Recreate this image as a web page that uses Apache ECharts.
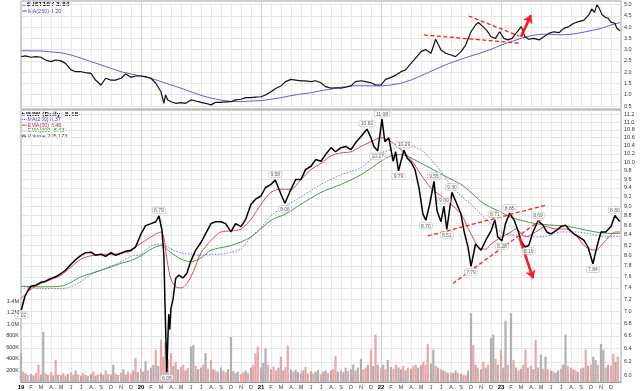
<!DOCTYPE html>
<html><head><meta charset="utf-8">
<script src="https://cdn.jsdelivr.net/npm/echarts@6/dist/echarts.min.js"></script>
<style>html,body{margin:0;padding:0;background:#fff}#c{width:640px;height:391px}</style>
</head><body><div id="c"></div>
<script>
// ---------- data ----------
const monthLetters = ['J','F','M','A','M','J','J','A','S','O','N','D'];
const ustTicks = [0.5,1.0,1.5,2.0,2.5,3.0,3.5,4.0,4.5,5.0];
const priceTicks = [6.0,6.2,6.4,6.6,6.8,7.0,7.2,7.4,7.6,7.8,8.0,8.2,8.4,8.6,8.8,9.0,9.2,9.4,9.6,9.8,10.0,10.2,10.4,10.6,10.8,11.0,11.2];
const volTicks = [200000,400000,600000,800000,1000000,1200000,1400000];

const ustDates = ['2019-01-02','2019-01-15','2019-02-01','2019-02-15','2019-03-01','2019-03-15','2019-04-01','2019-04-15','2019-05-01','2019-05-15','2019-06-01','2019-06-15','2019-07-01','2019-07-15','2019-08-01','2019-08-15','2019-09-01','2019-09-15','2019-10-01','2019-10-15','2019-11-01','2019-11-15','2019-12-01','2019-12-15',
'2020-01-01','2020-01-15','2020-02-01','2020-02-15','2020-03-01','2020-03-10','2020-03-15','2020-03-22','2020-04-01','2020-04-15','2020-05-01','2020-05-15','2020-06-01','2020-06-15','2020-07-01','2020-07-15','2020-08-01','2020-08-15','2020-09-01','2020-09-15','2020-10-01','2020-10-15','2020-11-01','2020-11-15','2020-12-01','2020-12-15',
'2021-01-01','2021-01-15','2021-02-01','2021-02-15','2021-03-01','2021-03-15','2021-04-01','2021-04-15','2021-05-01','2021-05-15','2021-06-01','2021-06-15','2021-07-01','2021-07-15','2021-08-01','2021-08-15','2021-09-01','2021-09-15','2021-10-01','2021-10-15','2021-11-01','2021-11-15','2021-12-01','2021-12-15',
'2022-01-01','2022-01-15','2022-02-01','2022-02-15','2022-03-01','2022-03-15','2022-04-01','2022-04-15','2022-05-01','2022-05-15','2022-06-01','2022-06-15','2022-07-01','2022-07-15','2022-08-01','2022-08-15','2022-09-01','2022-09-15','2022-10-01','2022-10-15','2022-10-24','2022-11-07','2022-11-19','2022-12-01','2022-12-15','2022-12-28',
'2023-01-10','2023-01-22','2023-02-04','2023-02-15','2023-03-02','2023-03-13','2023-03-25','2023-04-10','2023-04-25','2023-05-10','2023-05-25','2023-06-10','2023-06-25','2023-07-10','2023-07-25','2023-08-10','2023-08-25','2023-09-10','2023-09-25','2023-10-03','2023-10-12','2023-10-19','2023-10-26','2023-11-04','2023-11-10','2023-11-15','2023-11-22','2023-12-01','2023-12-07','2023-12-13','2023-12-19','2023-12-29'];
const ustValues = [2.69,2.72,2.66,2.69,2.66,2.54,2.47,2.54,2.50,2.39,2.10,2.02,2.02,1.98,1.95,1.65,1.43,1.73,1.65,1.65,1.73,1.92,1.77,1.83,
1.83,1.80,1.73,1.51,1.13,0.62,0.99,0.77,0.69,0.62,0.65,0.62,0.77,0.72,0.66,0.62,0.55,0.66,0.66,0.68,0.69,0.77,0.80,0.87,0.87,0.89,
0.91,0.99,1.13,1.29,1.39,1.58,1.68,1.65,1.61,1.61,1.58,1.62,1.53,1.36,1.29,1.31,1.29,1.33,1.39,1.58,1.62,1.58,1.53,1.43,
1.43,1.68,1.77,1.87,2.02,2.10,2.39,2.62,2.91,3.00,2.84,3.46,2.98,2.84,2.76,2.69,2.91,3.20,3.79,4.09,4.20,4.02,3.84,3.57,3.50,3.79,
3.50,3.43,3.50,3.72,4.02,3.57,3.46,3.50,3.43,3.57,3.72,3.79,3.75,3.94,4.02,4.17,4.24,4.31,4.55,4.80,4.65,4.98,4.85,4.55,4.62,4.42,4.40,4.22,4.15,4.17,3.95,3.84];

const ustMaDates = ['2019-01-02','2019-03-01','2019-05-01','2019-06-01','2019-07-01','2019-08-01','2019-09-01','2019-10-01','2019-11-01','2019-12-01','2020-01-01','2020-02-01','2020-03-01','2020-04-01','2020-05-01','2020-06-01','2020-07-01','2020-08-01','2020-09-01','2020-10-01','2020-11-01','2020-12-01','2021-01-01','2021-02-01','2021-03-01','2021-04-01','2021-05-01','2021-06-01','2021-07-01','2021-08-01','2021-09-01','2021-10-01','2021-11-01','2021-12-01','2022-01-01','2022-02-01','2022-03-01','2022-04-01','2022-05-01','2022-06-01','2022-07-01','2022-08-01','2022-09-01','2022-10-01','2022-11-01','2022-12-01','2023-01-01','2023-02-01','2023-03-01','2023-04-01','2023-05-01','2023-06-01','2023-07-01','2023-08-01','2023-09-01','2023-10-01','2023-11-01','2023-12-01','2023-12-29'];
const ustMaValues = [2.95,2.94,2.86,2.76,2.62,2.47,2.32,2.17,2.02,1.92,1.83,1.73,1.58,1.43,1.29,1.13,0.97,0.85,0.76,0.70,0.69,0.72,0.74,0.80,0.87,0.96,1.03,1.09,1.18,1.25,1.33,1.39,1.40,1.39,1.39,1.43,1.51,1.65,1.84,2.04,2.24,2.42,2.57,2.72,2.86,3.01,3.20,3.35,3.50,3.62,3.68,3.68,3.65,3.68,3.75,3.84,3.94,4.09,4.20];

const priceDates = ['2019-01-02','2019-01-13','2019-01-22','2019-02-01','2019-02-15','2019-03-01','2019-03-15','2019-04-01','2019-04-15','2019-05-01','2019-05-15','2019-06-01','2019-06-15','2019-07-01','2019-07-15','2019-08-01','2019-08-15','2019-09-01','2019-09-15','2019-10-01','2019-10-15','2019-11-01','2019-11-15','2019-12-01','2019-12-15',
'2020-01-01','2020-01-15','2020-02-01','2020-02-15','2020-02-24','2020-03-04','2020-03-10','2020-03-13','2020-03-17','2020-03-19','2020-03-22','2020-03-25','2020-03-28','2020-04-01','2020-04-07','2020-04-15','2020-04-24','2020-05-07','2020-05-19','2020-06-01','2020-06-15','2020-07-01','2020-07-15','2020-08-01','2020-08-15','2020-09-01','2020-09-15','2020-10-01','2020-10-15','2020-11-01','2020-11-15','2020-12-01','2020-12-15',
'2021-01-01','2021-01-15','2021-02-01','2021-02-13','2021-03-01','2021-03-13','2021-04-01','2021-04-15','2021-05-01','2021-05-15','2021-06-01','2021-06-15','2021-07-01','2021-07-15','2021-08-01','2021-08-15','2021-09-01','2021-09-15','2021-10-01','2021-10-15','2021-11-01','2021-11-19','2021-12-01','2021-12-10','2021-12-22',
'2022-01-04','2022-01-13','2022-01-25','2022-02-07','2022-02-14','2022-02-22','2022-03-02','2022-03-10','2022-03-20','2022-04-01','2022-04-13','2022-04-25','2022-05-07','2022-05-16','2022-05-28','2022-06-10','2022-06-19','2022-07-01','2022-07-10','2022-07-19','2022-08-04','2022-08-16','2022-09-01','2022-09-10','2022-09-22','2022-10-01','2022-10-15','2022-11-01','2022-11-15','2022-12-01','2022-12-13','2022-12-22',
'2023-01-04','2023-01-15','2023-01-28','2023-02-10','2023-02-22','2023-03-01','2023-03-13','2023-03-25','2023-04-07','2023-04-22','2023-05-07','2023-05-19','2023-06-01','2023-06-15','2023-07-01','2023-07-15','2023-07-25','2023-08-10','2023-08-25','2023-09-10','2023-09-22','2023-10-07','2023-10-19','2023-11-01','2023-11-15','2023-12-01','2023-12-13','2023-12-25','2023-12-29'];
const priceValues = [7.02,7.25,7.35,7.43,7.45,7.50,7.52,7.57,7.60,7.66,7.72,7.83,7.92,8.00,8.05,8.06,8.00,8.02,7.98,8.05,8.00,8.04,8.08,8.10,8.16,
8.42,8.59,8.63,8.67,8.79,8.50,8.00,7.20,6.40,6.05,6.50,6.95,6.70,7.05,7.20,7.57,7.63,7.58,7.66,7.90,8.10,8.25,8.42,8.63,8.67,8.67,8.63,8.46,8.63,8.57,8.72,9.04,9.15,
9.22,9.41,9.48,9.58,9.26,9.06,9.37,9.59,9.59,9.82,9.90,10.06,10.02,10.18,10.35,10.25,10.35,10.38,10.30,10.47,10.63,10.82,10.60,10.38,10.27,
11.08,10.50,10.60,10.02,10.25,9.79,10.05,10.29,10.10,10.00,9.82,9.40,8.83,8.70,9.04,9.55,8.90,8.67,9.00,8.51,9.30,9.10,8.83,8.48,8.16,7.79,8.22,8.10,8.29,8.48,8.71,8.36,
8.28,8.63,8.85,8.70,8.46,8.29,8.16,8.19,8.46,8.69,8.60,8.46,8.42,8.48,8.57,8.60,8.52,8.42,8.36,8.29,8.16,7.84,8.16,8.46,8.46,8.57,8.80,8.70,8.68];

const ma250Dates = ['2019-01-02','2019-03-01','2019-05-01','2019-06-01','2019-07-01','2019-08-01','2019-09-01','2019-10-01','2019-11-01','2019-12-01','2020-01-01','2020-02-01','2020-03-01','2020-04-01','2020-05-01','2020-06-01','2020-07-01','2020-08-01','2020-09-01','2020-10-01','2020-11-01','2020-12-01','2021-01-01','2021-02-01','2021-03-15','2021-05-01','2021-07-01','2021-09-01','2021-11-01','2021-12-20','2022-02-01','2022-03-15','2022-05-01','2022-06-01','2022-07-01','2022-08-01','2022-09-01','2022-10-01','2022-11-01','2022-12-01','2023-01-01','2023-02-01','2023-03-01','2023-04-01','2023-05-15','2023-07-01','2023-08-15','2023-10-01','2023-11-15','2023-12-29'];
const ma250Values = [7.43,7.39,7.39,7.42,7.52,7.64,7.72,7.80,7.88,7.98,8.02,8.18,8.22,8.12,8.05,8.02,8.00,8.02,8.02,8.06,8.12,8.36,8.55,8.80,9.00,9.20,9.48,9.70,9.87,10.18,10.30,10.42,10.30,10.06,9.78,9.45,9.22,9.04,8.83,8.63,8.46,8.40,8.40,8.36,8.37,8.46,8.46,8.42,8.36,8.37];

const ema50Dates = ['2019-01-02','2019-02-01','2019-03-01','2019-04-01','2019-05-01','2019-06-01','2019-07-01','2019-08-01','2019-09-01','2019-10-01','2019-11-01','2019-12-01','2019-12-15','2020-01-15','2020-02-15','2020-03-01','2020-03-10','2020-03-20','2020-04-01','2020-04-15','2020-05-01','2020-05-15','2020-06-01','2020-06-15','2020-07-01','2020-08-01','2020-09-01','2020-10-01','2020-11-01','2020-12-01','2021-01-01','2021-02-01','2021-03-01','2021-04-01','2021-05-01','2021-06-01','2021-07-01','2021-08-01','2021-09-01','2021-10-01','2021-11-01','2021-12-01','2022-01-01','2022-02-01','2022-03-01','2022-04-01','2022-05-01','2022-06-01','2022-07-01','2022-08-01','2022-09-01','2022-10-01','2022-11-01','2022-11-15','2022-12-01','2023-01-01','2023-02-01','2023-02-15','2023-03-15','2023-04-15','2023-05-15','2023-06-15','2023-07-15','2023-08-15','2023-09-15','2023-10-15','2023-11-15','2023-12-15','2023-12-29'];
const ema50Values = [7.22,7.38,7.48,7.55,7.63,7.78,7.93,7.99,8.02,8.02,8.04,8.08,8.16,8.29,8.42,8.46,8.35,7.90,7.55,7.42,7.40,7.45,7.60,7.80,8.05,8.29,8.46,8.48,8.52,8.72,9.04,9.30,9.37,9.37,9.59,9.82,9.97,10.15,10.22,10.25,10.38,10.50,10.60,10.50,10.30,10.06,9.70,9.40,9.22,9.04,8.83,8.42,8.12,8.12,8.22,8.35,8.46,8.52,8.36,8.46,8.57,8.52,8.52,8.40,8.16,8.10,8.29,8.46,8.46];

const ema200Dates = ['2019-01-02','2019-03-01','2019-05-01','2019-06-01','2019-07-01','2019-08-01','2019-09-01','2019-10-01','2019-11-01','2019-12-01','2020-01-01','2020-02-01','2020-03-01','2020-04-01','2020-05-01','2020-06-01','2020-07-01','2020-08-01','2020-10-01','2020-12-01','2021-02-01','2021-03-15','2021-05-01','2021-07-01','2021-09-01','2021-11-01','2022-01-01','2022-02-01','2022-03-01','2022-04-01','2022-05-01','2022-06-01','2022-07-01','2022-08-01','2022-09-01','2022-10-01','2022-11-01','2022-12-01','2023-01-01','2023-02-01','2023-03-01','2023-04-15','2023-06-01','2023-07-15','2023-09-01','2023-10-15','2023-12-01','2023-12-29'];
const ema200Values = [7.43,7.42,7.43,7.50,7.60,7.66,7.72,7.78,7.85,7.90,7.99,8.12,8.19,8.05,7.93,7.88,7.95,8.10,8.19,8.36,8.70,8.83,9.04,9.30,9.48,9.70,10.02,10.15,10.18,10.10,9.97,9.85,9.72,9.60,9.48,9.30,9.10,8.97,8.87,8.76,8.70,8.63,8.60,8.58,8.52,8.46,8.43,8.43];

const volDates = ("2019-01-01 2019-01-08 2019-01-15 2019-01-22 2019-02-01 2019-02-08 2019-02-15 2019-02-22 2019-03-01 2019-03-08 2019-03-15 2019-03-22 2019-04-01 2019-04-08 2019-04-15 2019-04-22 2019-05-01 2019-05-08 2019-05-15 2019-05-22 2019-06-01 2019-06-08 2019-06-15 2019-06-22 2019-07-01 2019-07-08 2019-07-15 2019-07-22 2019-08-01 2019-08-08 2019-08-15 2019-08-22 2019-09-01 2019-09-08 2019-09-15 2019-09-22 2019-10-01 2019-10-08 2019-10-15 2019-10-22 2019-11-01 2019-11-08 2019-11-15 2019-11-22 2019-12-01 2019-12-08 2019-12-15 2019-12-22 " +
"2020-01-01 2020-01-08 2020-01-15 2020-01-22 2020-02-01 2020-02-08 2020-02-15 2020-02-22 2020-03-01 2020-03-08 2020-03-15 2020-03-22 2020-04-01 2020-04-08 2020-04-15 2020-04-22 2020-05-01 2020-05-08 2020-05-15 2020-05-22 2020-06-01 2020-06-08 2020-06-15 2020-06-22 2020-07-01 2020-07-08 2020-07-15 2020-07-22 2020-08-01 2020-08-08 2020-08-15 2020-08-22 2020-09-01 2020-09-08 2020-09-15 2020-09-22 2020-10-01 2020-10-08 2020-10-15 2020-10-22 2020-11-01 2020-11-08 2020-11-15 2020-11-22 2020-12-01 2020-12-08 2020-12-15 2020-12-22 " +
"2021-01-01 2021-01-08 2021-01-15 2021-01-22 2021-02-01 2021-02-08 2021-02-15 2021-02-22 2021-03-01 2021-03-08 2021-03-15 2021-03-22 2021-04-01 2021-04-08 2021-04-15 2021-04-22 2021-05-01 2021-05-08 2021-05-15 2021-05-22 2021-06-01 2021-06-08 2021-06-15 2021-06-22 2021-07-01 2021-07-08 2021-07-15 2021-07-22 2021-08-01 2021-08-08 2021-08-15 2021-08-22 2021-09-01 2021-09-08 2021-09-15 2021-09-22 2021-10-01 2021-10-08 2021-10-15 2021-10-22 2021-11-01 2021-11-08 2021-11-15 2021-11-22 2021-12-01 2021-12-08 2021-12-15 2021-12-22 " +
"2022-01-01 2022-01-08 2022-01-15 2022-01-22 2022-02-01 2022-02-08 2022-02-15 2022-02-22 2022-03-01 2022-03-08 2022-03-15 2022-03-22 2022-04-01 2022-04-08 2022-04-15 2022-04-22 2022-05-01 2022-05-08 2022-05-15 2022-05-22 2022-06-01 2022-06-08 2022-06-15 2022-06-22 2022-07-01 2022-07-08 2022-07-15 2022-07-22 2022-08-01 2022-08-08 2022-08-15 2022-08-22 2022-09-01 2022-09-08 2022-09-15 2022-09-22 2022-10-01 2022-10-08 2022-10-15 2022-10-22 2022-11-01 2022-11-08 2022-11-15 2022-11-22 2022-12-01 2022-12-08 2022-12-15 2022-12-22 " +
"2023-01-01 2023-01-08 2023-01-15 2023-01-22 2023-02-01 2023-02-08 2023-02-15 2023-02-22 2023-03-01 2023-03-08 2023-03-15 2023-03-22 2023-04-01 2023-04-08 2023-04-15 2023-04-22 2023-05-01 2023-05-08 2023-05-15 2023-05-22 2023-06-01 2023-06-08 2023-06-15 2023-06-22 2023-07-01 2023-07-08 2023-07-15 2023-07-22 2023-08-01 2023-08-08 2023-08-15 2023-08-22 2023-09-01 2023-09-08 2023-09-15 2023-09-22 2023-10-01 2023-10-08 2023-10-15 2023-10-22 2023-11-01 2023-11-08 2023-11-15 2023-11-22 2023-12-01 2023-12-08 2023-12-15 2023-12-22").split(' ');
const volValuesK = [500,180,150,120,140,110,160,300,130,870,150,120,170,110,380,130,120,150,100,140,170,120,200,130,110,150,120,100,140,180,110,130,150,120,200,140,130,300,150,120,160,220,130,180,150,200,420,170,
230,180,360,200,250,300,560,280,730,440,700,400,500,280,350,220,260,300,200,240,610,640,280,220,250,300,500,230,380,220,200,180,250,200,170,220,780,190,150,180,140,170,200,160,250,300,500,610,
250,330,580,300,220,270,200,250,440,200,260,630,220,180,210,170,160,200,260,150,190,150,180,210,140,180,200,160,200,230,450,180,200,170,250,190,220,300,200,250,400,220,250,300,560,280,820,300,
250,300,220,380,260,230,300,250,220,280,200,250,230,280,300,250,290,350,300,660,320,560,280,250,220,200,180,160,170,150,200,160,140,120,110,200,1190,640,300,250,220,350,250,300,760,820,400,300,
560,250,1060,300,1190,380,250,200,230,300,560,250,280,220,730,250,470,230,440,220,200,180,160,200,230,300,820,280,250,220,200,180,230,250,560,280,300,440,380,300,660,560,250,300,280,490,350,440];
const volColors = "grgrggrrgg"+"rgrgrggrrg"+"rggrgrrggr"+"grggrrggrg"+"rggrrgrgrg"+"grggrgrrgr"+"rgrgrrgrgg"+"rggrgrrgrg"+"grrggrggrr"+"grgrrrgggr"+"grrgrgrrgr"+"ggrgrrgrgg"+"rggrgrrgrg"+"grggrggrrg"+"rgrgrgrggr"+"rggrgrgrrg"+"grrrggrgrg"+"rgrggrgrrg"+"grgrgrgrgg"+"rgrggrgrgr"+"grrgrgrggr"+"grgrggrggr"+"rgrgrgrgrg"+"grggrgrrgr";

const annoDates = ['2019-01-02','2020-02-24','2020-03-19','2021-02-13','2021-03-13','2021-11-19','2021-12-22','2022-01-04','2022-02-22','2022-03-10','2022-05-16','2022-06-10','2022-07-10','2022-07-19','2022-08-04','2022-10-01','2022-12-13','2023-01-04','2023-01-28','2023-03-25','2023-04-22','2023-10-07','2023-12-13'];
const annoValues = [7.02,8.79,6.05,9.58,9.06,10.82,10.27,11.08,9.79,10.29,8.70,9.55,9.00,8.51,9.30,7.79,8.71,8.28,8.85,8.19,8.69,7.84,8.80];
const annoSide = ['bottom','top','bottom','top','bottom','top','bottom','top','bottom','top','bottom','top','top','bottom','top','bottom','top','bottom','top','bottom','top','bottom','top'];

const topTrendA = {dates:['2022-05-10','2023-03-01'], values:[3.65,3.28]};
const topTrendB = {dates:['2022-09-24','2023-02-24'], values:[4.49,3.60]};
const topArrow = {dates:['2023-03-01','2023-04-01'], values:[3.57,4.53]};
const botTrendA = {dates:['2022-05-22','2023-05-16'], values:[8.38,9.02]};
const botTrendB = {dates:['2022-08-07','2023-05-07'], values:[7.48,8.74]};
const botArrow = {dates:['2023-02-25','2023-04-07'], values:[8.34,7.57]};

// ---------- helpers ----------
const ln = Math.log;
function mo(d){const p=d.split('-').map(Number);const dim=new Date(p[0],p[1],0).getDate();return (p[0]-2019)*12+(p[1]-1)+(p[2]-1)/dim;}
function pts(dates, vals, f){return dates.map((d,i)=>[mo(d), f?f(vals[i]):vals[i]]);}

const splitColors = ['#cfcfcf','#e8e8e8','#e8e8e8','#e8e8e8','#e8e8e8','#e8e8e8','#e8e8e8','#e8e8e8','#e8e8e8','#e8e8e8','#e8e8e8','#e8e8e8'];
function mkX(gi, labels){return {gridIndex:gi,type:'value',min:0,max:60,interval:1,
  axisLine:{show:labels,lineStyle:{color:'#9a9a9a'}},axisTick:{show:false},
  axisLabel:{show:labels,fontSize:5.5,fontFamily:'Liberation Sans',color:'#333',margin:2,showMaxLabel:false,
    formatter:v=>{const k=Math.round(v);const m=((k%12)+12)%12;return m===0?'{y|'+(19+k/12)+'}':monthLetters[m];},
    rich:{y:{fontWeight:'bold',fontSize:6,color:'#000',fontFamily:'Liberation Sans'}}},
  splitLine:{show:true,lineStyle:{color:splitColors,width:1}}};}

const RED='#ff1a1a';
function dashed(obj, xi, yi, f){return {type:'line',xAxisIndex:xi,yAxisIndex:yi,data:pts(obj.dates,obj.values,f),showSymbol:false,silent:true,z:8,
  lineStyle:{color:RED,width:1.3,type:[4,2.5]}};}
function arrow(obj, xi, yi, f){const p=pts(obj.dates,obj.values,f);return {type:'lines',coordinateSystem:'cartesian2d',xAxisIndex:xi,yAxisIndex:yi,z:9,silent:true,
  symbol:['none','arrow'],symbolSize:8,lineStyle:{color:RED,width:2.6,opacity:1},data:[{coords:p}]};}

const option = {
  animation:false,
  backgroundColor:'#fff',
  grid:[
    {left:21,right:19,top:1,height:108,show:true,borderColor:'#a0a0a0',borderWidth:1,backgroundColor:'#fff'},
    {left:21,right:19,top:110,height:272,show:true,borderColor:'#a0a0a0',borderWidth:1,backgroundColor:'#fff'}
  ],
  xAxis:[mkX(0,false), mkX(1,true)],
  yAxis:[
    {gridIndex:0,type:'value',position:'right',min:0.367,max:5.155,
      axisLine:{show:false},axisTick:{show:false,customValues:ustTicks},
      axisLabel:{customValues:ustTicks,fontSize:5.5,fontFamily:'Liberation Sans',color:'#333',margin:3,formatter:v=>v.toFixed(1)},
      splitLine:{show:true,lineStyle:{color:'#e4e4e4',width:1}}},
    {gridIndex:1,type:'value',position:'right',min:ln(5.909),max:ln(11.326),
      axisLine:{show:false},axisTick:{show:false,customValues:priceTicks.map(ln)},
      axisLabel:{customValues:priceTicks.map(ln),fontSize:5.5,fontFamily:'Liberation Sans',color:'#333',margin:3,formatter:v=>Math.exp(v).toFixed(1)},
      splitLine:{show:true,lineStyle:{color:'#e4e4e4',width:1}}},
    {gridIndex:1,type:'value',position:'left',min:0,max:4710000,
      axisLine:{show:false},axisTick:{show:false,customValues:volTicks},
      axisLabel:{customValues:volTicks,fontSize:5.5,fontFamily:'Liberation Sans',color:'#333',margin:2,
        formatter:v=>v>=1000000?(v/1000000).toFixed(1)+'M':(v/1000)+'K'},
      splitLine:{show:false}}
  ],
  series:[
    {type:'bar',xAxisIndex:1,yAxisIndex:2,barWidth:2.2,z:1,silent:true,
      data:volDates.map((d,i)=>({value:[mo(d),volValuesK[i]*1000],itemStyle:{color:volColors[i]==='g'?'#b0b0b0':'#f0a4a4'}}))},
    {type:'line',xAxisIndex:0,yAxisIndex:0,data:pts(ustMaDates,ustMaValues),showSymbol:false,z:3,lineStyle:{color:'#6464cc',width:1}},
    {type:'line',xAxisIndex:0,yAxisIndex:0,data:pts(ustDates,ustValues),showSymbol:false,z:4,lineStyle:{color:'#111',width:1.2}},
    dashed(topTrendA,0,0), dashed(topTrendB,0,0), arrow(topArrow,0,0),
    {type:'line',xAxisIndex:1,yAxisIndex:1,data:pts(ma250Dates,ma250Values,ln),showSymbol:false,z:3,smooth:0.3,lineStyle:{color:'#6a6ad8',width:0.9,type:[1.5,1.5]}},
    {type:'line',xAxisIndex:1,yAxisIndex:1,data:pts(ema200Dates,ema200Values,ln),showSymbol:false,z:3,smooth:0.3,lineStyle:{color:'#3d8b3d',width:0.9}},
    {type:'line',xAxisIndex:1,yAxisIndex:1,data:pts(ema50Dates,ema50Values,ln),showSymbol:false,z:3,smooth:0.3,lineStyle:{color:'#e0304a',width:0.9}},
    {type:'line',xAxisIndex:1,yAxisIndex:1,data:pts(priceDates,priceValues,ln),showSymbol:false,z:4,lineStyle:{color:'#000',width:1.5}},
    dashed(botTrendA,1,1,ln), dashed(botTrendB,1,1,ln), arrow(botArrow,1,1,ln),
    {type:'scatter',xAxisIndex:1,yAxisIndex:1,symbolSize:1,itemStyle:{color:'rgba(0,0,0,0)'},z:10,silent:true,
      data:annoDates.map((d,i)=>({value:[mo(d),ln(annoValues[i])],label:{position:annoSide[i]}})),
      label:{show:true,formatter:p=>annoValues[p.dataIndex].toFixed(2),fontSize:5,fontFamily:'Liberation Sans',color:'#333',
        backgroundColor:'#fff',borderColor:'#b8b8b8',borderWidth:0.6,borderRadius:2,padding:[1,1.5,0,1.5],distance:2}}
  ],
  graphic:[
    {type:'rect',shape:{x:22,y:4,width:3.5,height:1.4},style:{fill:'#000'}},
    {type:'text',x:26.5,y:4.8,style:{text:'$UST10Y 3.84',fontSize:5.5,fontWeight:'bold',fontFamily:'DejaVu Sans',fill:'#111',verticalAlign:'middle'}},
    {type:'rect',shape:{x:22,y:10.5,width:5,height:1},style:{fill:'#5050c8'}},
    {type:'text',x:28,y:11.2,style:{text:'MA(250) 4.20',fontSize:5.5,fontFamily:'Liberation Sans',fill:'#4040c0',verticalAlign:'middle'}},

    {type:'rect',shape:{x:22,y:112.5,width:1,height:3},style:{fill:'#000'}},
    {type:'rect',shape:{x:23.5,y:113,width:1,height:2.5},style:{fill:'#000'}},
    {type:'text',x:26,y:114.2,style:{text:'WIW (Daily) 8.68',fontSize:5.5,fontWeight:'bold',fontFamily:'DejaVu Sans',fill:'#111',verticalAlign:'middle'}},
    {type:'line',shape:{x1:22,y1:119.5,x2:26.5,y2:119.5},style:{stroke:'#5050c8',lineWidth:1,lineDash:[1,1]}},
    {type:'text',x:27.5,y:119.6,style:{text:'MA(250) 8.37',fontSize:5.5,fontFamily:'Liberation Sans',fill:'#4040c0',verticalAlign:'middle'}},
    {type:'line',shape:{x1:22,y1:125.1,x2:26.5,y2:125.1},style:{stroke:'#e0304a',lineWidth:1}},
    {type:'text',x:27.5,y:125.2,style:{text:'EMA(50) 8.46',fontSize:5.5,fontFamily:'Liberation Sans',fill:'#d02040',verticalAlign:'middle'}},
    {type:'line',shape:{x1:22,y1:130.7,x2:26.5,y2:130.7},style:{stroke:'#3d8b3d',lineWidth:1}},
    {type:'text',x:27.5,y:130.8,style:{text:'EMA(200) 8.43',fontSize:5.5,fontFamily:'Liberation Sans',fill:'#2d7b2d',verticalAlign:'middle'}},
    {type:'rect',shape:{x:22,y:135,width:1,height:2.5},style:{fill:'#555'}},
    {type:'rect',shape:{x:23.5,y:134,width:1,height:3.5},style:{fill:'#555'}},
    {type:'rect',shape:{x:25,y:135.5,width:1,height:2},style:{fill:'#555'}},
    {type:'text',x:27.5,y:136.4,style:{text:'Volume 205,173',fontSize:5.5,fontFamily:'Liberation Sans',fill:'#444',verticalAlign:'middle'}}
  ]
};
const chart = echarts.init(document.getElementById('c'), null, {renderer:'canvas'});
chart.setOption(option);
</script>
</body></html>
